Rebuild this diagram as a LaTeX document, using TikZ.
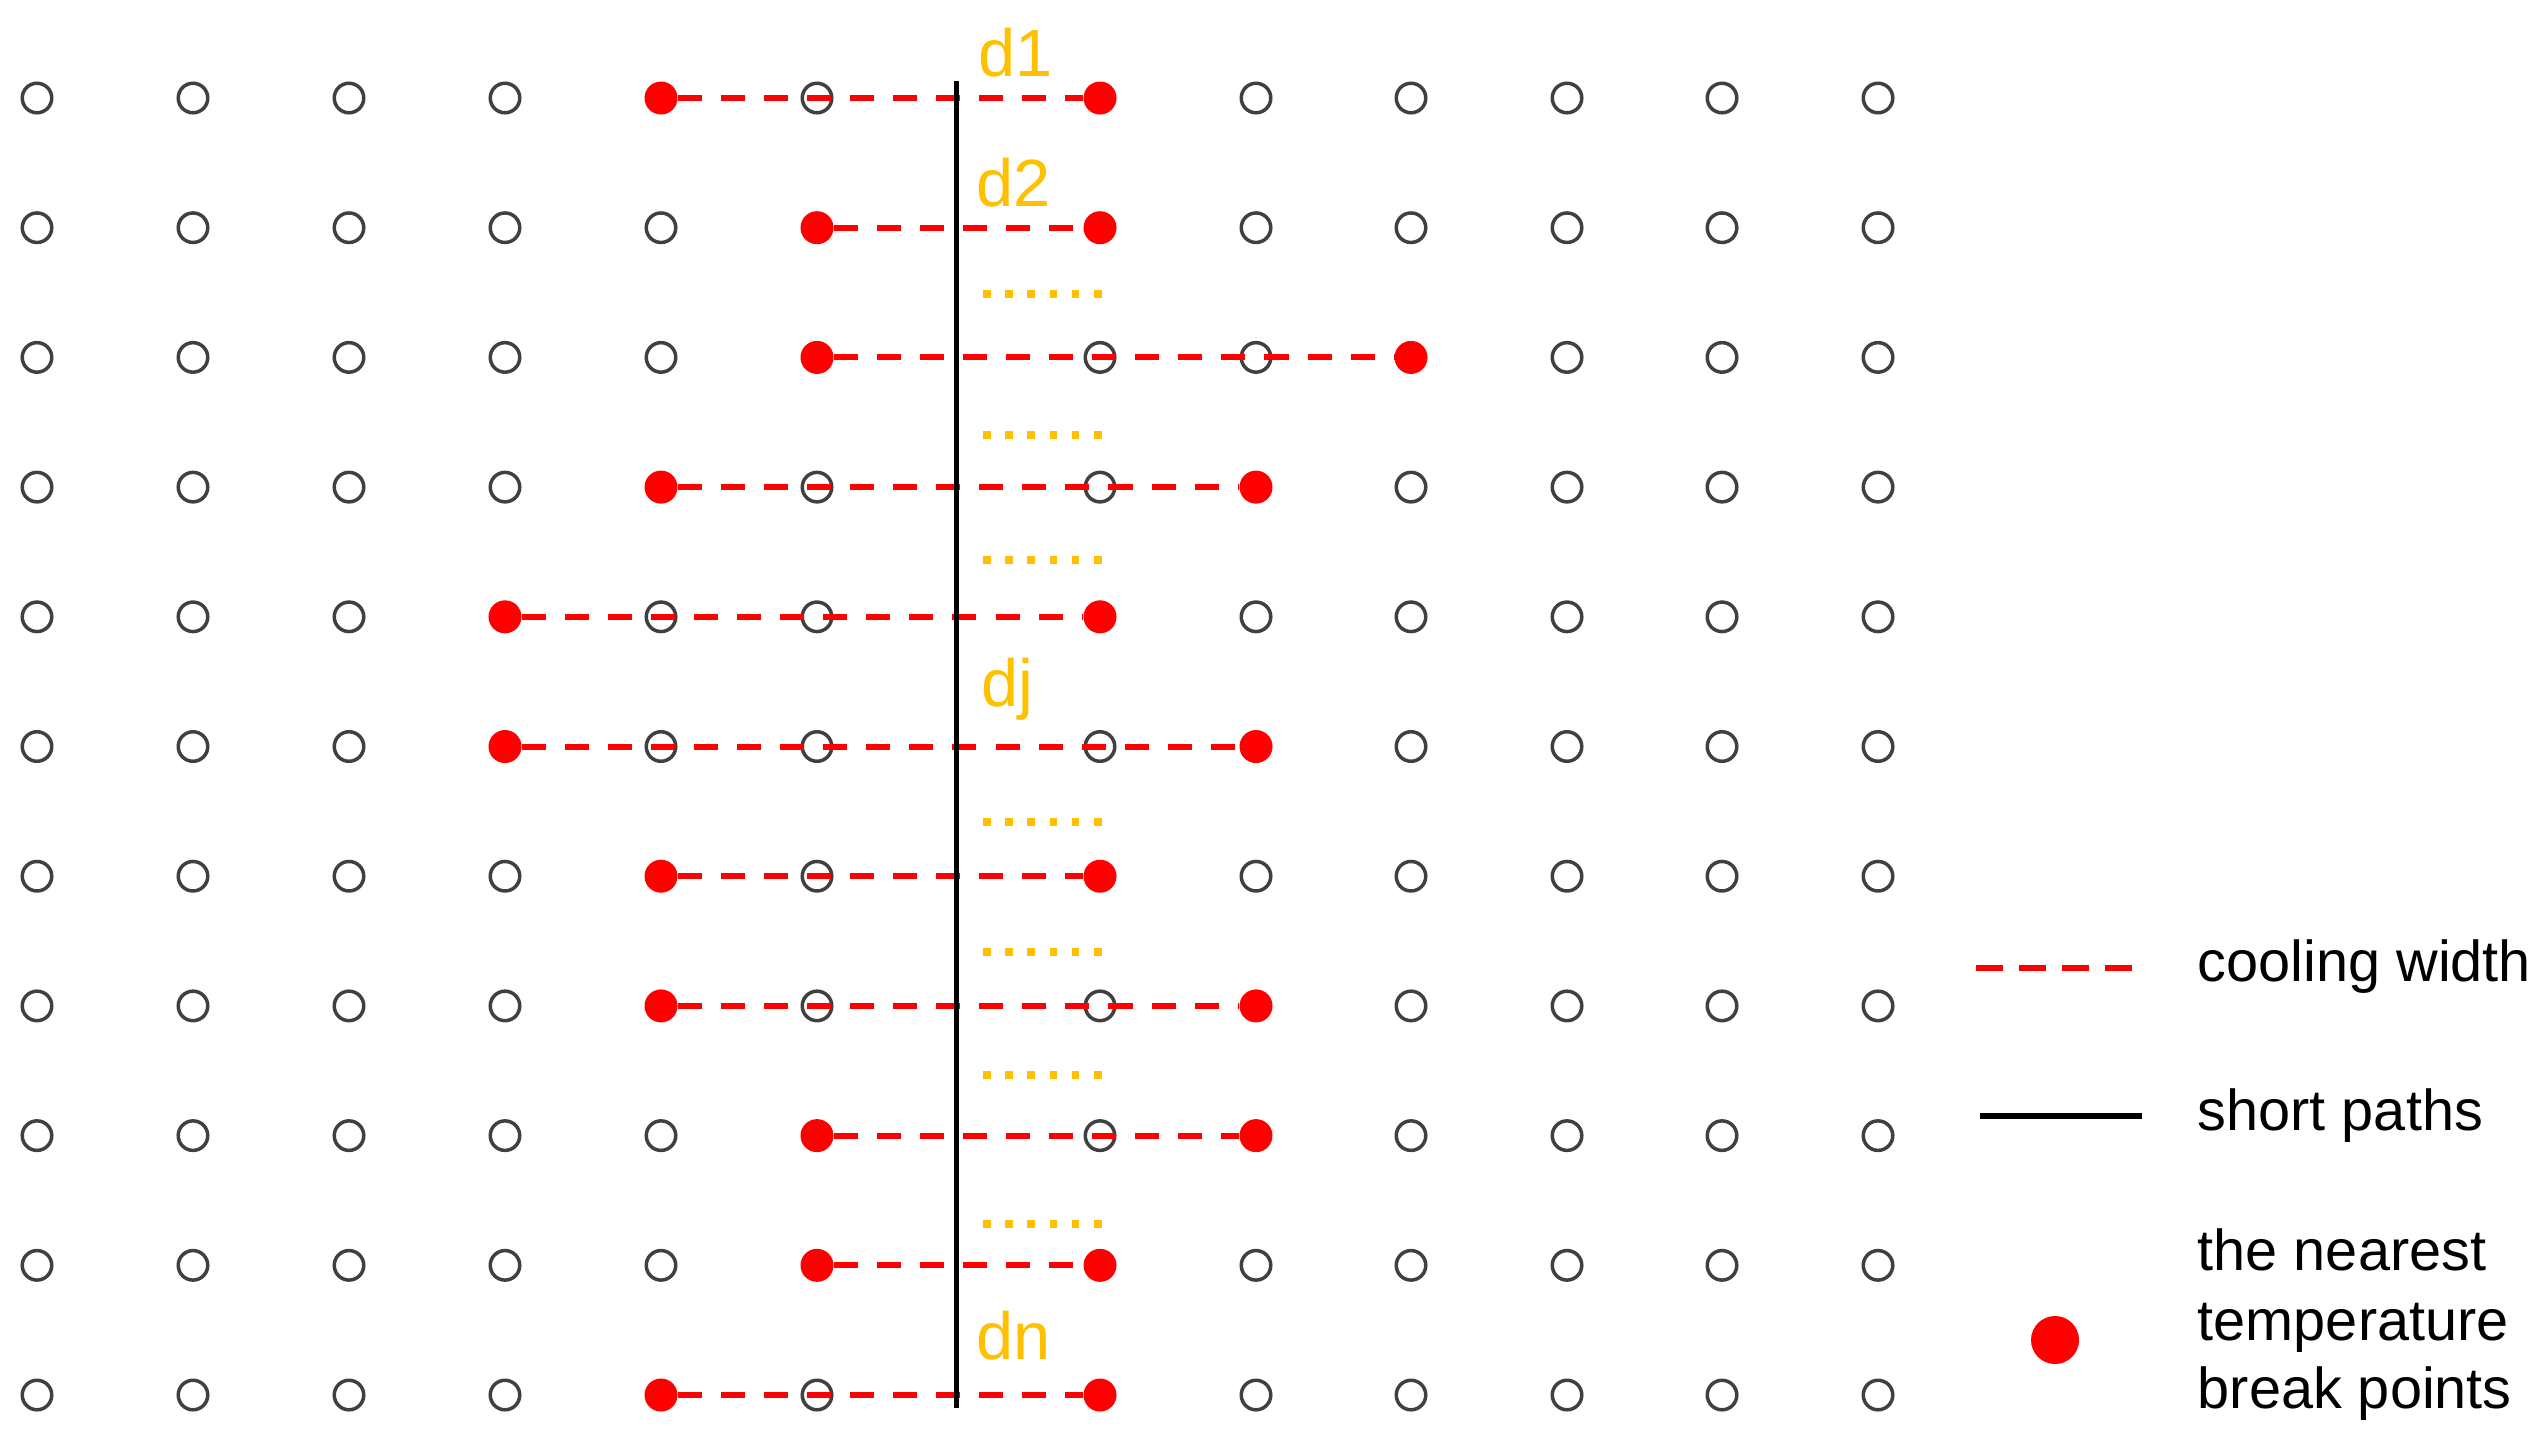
\documentclass[tikz,border=0pt]{standalone}
\usepackage{fontspec}
\setmainfont{Liberation Sans}
\definecolor{labor}{HTML}{FFC000}
\definecolor{ring}{HTML}{404040}
\begin{document}
\begin{tikzpicture}[x=0.01cm,y=-0.01cm,
  opendot/.style={circle,draw=ring,line width=0.035cm,inner sep=0pt,minimum size=0.295cm},
  reddot/.style={circle,fill=red,inner sep=0pt,minimum size=0.33cm},
  bigdot/.style={circle,fill=red,inner sep=0pt,minimum size=0.48cm},
  cw/.style={red,line width=0.06cm,dash pattern=on 0.24cm off 0.19cm},
  sp/.style={black,line width=0.05cm},
  dotrow/.style={labor,line width=0.075cm,dash pattern=on 0.075cm off 0.147cm},
  dlab/.style={labor,font=\fontsize{19}{22}\selectfont,anchor=base west,inner sep=0pt},
  legtext/.style={black,font=\fontsize{16.4}{19.7}\selectfont,anchor=base west,inner sep=0pt}]
\useasboundingbox (0,0) rectangle (2543,1441);
\def\xs{{37,193,349,505,661,817,1100,1256,1411,1567,1722,1878}}
% grid of points, with the nearest break points in red
\foreach \r/\L/\R in {1/4/6,2/5/6,3/5/8,4/4/7,5/3/6,6/3/7,7/4/6,8/4/7,9/5/7,10/5/6,11/4/6}{
  \pgfmathsetmacro\yy{98+(\r-1)*129.7}
  \foreach \c in {0,...,11}{
    \pgfmathsetmacro\xx{\xs[\c]}
    \pgfmathtruncatemacro\st{(\c==\L)||(\c==\R)}
    \ifnum\st=1
      \node[reddot] (g-\r-\c) at (\xx,\yy) {};
    \else
      \node[opendot] (g-\r-\c) at (\xx,\yy) {};
    \fi
  }
  \draw[cw] (g-\r-\L) -- (g-\r-\R);
}
% short path
\coordinate (top) at (956,81);
\coordinate (bot) at (956,1408);
\draw[sp] (top) -- (bot);
% labels
\node[dlab] (d1) at (978,76) {d1};
\node[dlab] (d2) at (976,206) {d2};
\node[dlab] (dj) at (981,706) {dj};
\node[dlab] (dn) at (976,1359) {dn};
% dotted ellipses
\foreach \i/\y in {1/294,2/435,3/560,4/822,5/952,6/1075,7/1224}{
  \coordinate (o\i s) at (983,\y);
  \coordinate (o\i e) at (1104,\y);
  \draw[dotrow] (o\i s) -- (o\i e);
}
% legend
\coordinate (l1a) at (1976,968);
\coordinate (l1b) at (2134,968);
\draw[cw,dash pattern=on 0.27cm off 0.16cm] (l1a) -- (l1b);
\node[legtext] (t1) at (2197,981) {cooling width};
\coordinate (l2a) at (1980,1116);
\coordinate (l2b) at (2142,1116);
\draw[black,line width=0.055cm] (l2a) -- (l2b);
\node[legtext] (t2) at (2197,1130) {short paths};
\node[bigdot] (ld) at (2055,1340) {};
\node[legtext] (t3a) at (2197,1270) {the nearest};
\node[legtext] (t3b) at (2197,1340) {temperature};
\node[legtext] (t3c) at (2197,1408) {break points};
\end{tikzpicture}
\end{document}
